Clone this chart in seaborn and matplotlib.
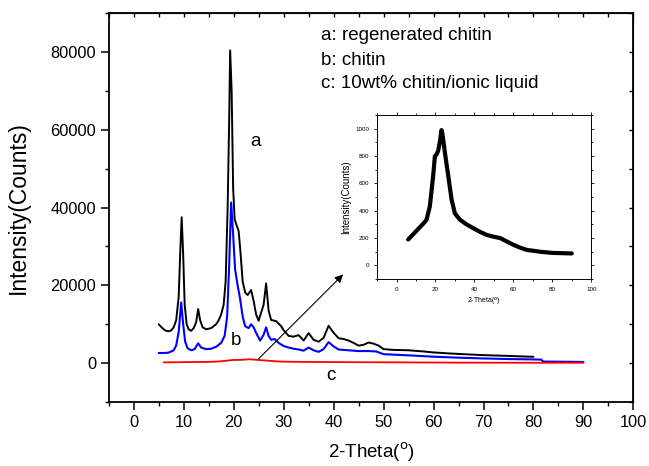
import numpy as np
import pandas as pd
import matplotlib
matplotlib.use("Agg")
import matplotlib.pyplot as plt
import seaborn as sns
from matplotlib.ticker import MultipleLocator

# ---- data ----
a_x = [5.0, 5.5, 6.0, 6.5, 7.0, 7.5, 8.0, 8.5, 9.0, 9.3, 9.6, 9.9, 10.2, 10.6, 11.0, 11.5, 12.0, 12.5,
       12.9, 13.3, 13.8, 14.5, 15.5, 16.5, 17.0, 17.5, 18.0, 18.4, 18.8, 19.1, 19.3, 19.6, 19.9, 20.2,
       20.6, 21.0, 21.4, 21.8, 22.3, 22.8, 23.5, 24.0, 24.5, 25.0, 25.5, 26.0, 26.5, 27.0, 27.5, 28.5,
       29.5, 30.0, 31.0, 32.0, 33.0, 34.0, 35.0, 36.0, 37.0, 38.0, 39.0, 40.0, 41.0, 42.0, 43.0, 44.0,
       45.0, 46.0, 47.0, 48.0, 49.0, 50.0, 52.0, 55.0, 58.0, 60.0, 63.0, 66.0, 70.0, 74.0, 77.0, 80.0]
a_y = [10000, 9300, 8700, 8300, 8200, 8400, 9200, 11000, 17000, 28000, 37500, 28000, 15000, 10000,
       8700, 8300, 9000, 10500, 13900, 11000, 9200, 8700, 9000, 10000, 11000, 12500, 15000, 21000,
       40000, 62000, 80400, 70000, 45000, 37000, 35400, 34000, 28000, 21000, 18200, 17500, 18800,
       16000, 12500, 10900, 13000, 15000, 20500, 13500, 11100, 10800, 9500, 8500, 7000, 6800, 7200,
       5800, 7700, 6000, 5500, 6500, 9600, 7800, 6400, 6200, 5800, 5200, 4500, 4700, 5300, 5000,
       4500, 3600, 3400, 3300, 3000, 2750, 2500, 2300, 2050, 1900, 1750, 1630]

b_x = [5.0, 6.0, 7.0, 8.0, 8.5, 9.0, 9.5, 9.9, 10.3, 10.8, 11.5, 12.2, 12.9, 13.5, 14.5, 15.5, 16.5,
       17.5, 18.2, 18.7, 19.1, 19.5, 19.9, 20.3, 20.8, 21.3, 21.8, 22.3, 23.0, 23.5, 24.0, 24.6, 25.3,
       26.0, 26.5, 27.0, 27.5, 28.2, 29.0, 30.0, 31.0, 32.0, 33.0, 34.0, 35.0, 36.0, 37.0, 38.0, 39.0,
       40.0, 41.0, 43.0, 45.0, 47.0, 48.5, 50.0, 55.0, 60.0, 65.0, 70.0, 75.0, 80.0, 81.5, 82.0, 86.0,
       90.0]
b_y = [2600, 2600, 2700, 3300, 4500, 8000, 15600, 10000, 5500, 3800, 3300, 3600, 5100, 4000, 3600,
       3700, 4200, 5200, 7000, 12000, 25000, 41300, 33000, 24000, 20000, 16500, 12000, 9500, 9000,
       10000, 9200, 7500, 5800, 7300, 9200, 7000, 6000, 6200, 5200, 4400, 4000, 3700, 3500, 3200,
       4000, 3300, 2900, 3600, 5400, 4300, 3500, 3300, 3100, 3100, 3000, 2300, 2000, 1650, 1400,
       1200, 1050, 950, 900, 400, 350, 300]

c_x = [6, 8, 10, 12, 14, 15.4, 17.1, 18.8, 19.7, 20.5, 21.4, 22.3, 23.1, 23.6, 24.8, 25.7, 26.6,
       27.5, 28.3, 30.0, 32.6, 36.0, 39.5, 43.0, 46.4, 50.0, 53.3, 56.0, 60.2, 63.5, 67.1, 70.0, 74.0,
       80.0, 85.0, 90.0]
c_y = [190, 220, 250, 280, 310, 334, 432, 653, 800, 810, 840, 910, 990, 960, 830, 740, 653, 560,
       480, 380, 334, 300, 272, 245, 223, 210, 200, 180, 150, 130, 113, 108, 100, 92, 90, 88]

labels = ["a: regenerated chitin", "b: chitin", "c: 10wt% chitin/ionic liquid"]

# ---- style ----
sns.set_style("ticks")
plt.rcParams['font.family'] = ['Liberation Sans', 'DejaVu Sans']
plt.rcParams['text.color'] = 'black'
plt.rcParams['axes.labelcolor'] = 'black'
plt.rcParams['xtick.color'] = 'black'
plt.rcParams['ytick.color'] = 'black'
plt.rcParams['axes.edgecolor'] = 'black'

fig = plt.figure(figsize=(6.49, 4.66), dpi=100)
ax = fig.add_axes([0.1675, 0.1373, 0.8085, 0.8347])

dfa = pd.DataFrame({"x": a_x, "y": a_y})
dfb = pd.DataFrame({"x": b_x, "y": b_y})
dfc = pd.DataFrame({"x": c_x, "y": c_y})

sns.lineplot(data=dfa, x="x", y="y", ax=ax, color="black", lw=1.4)
sns.lineplot(data=dfb, x="x", y="y", ax=ax, color="#0000ff", lw=1.5)
sns.lineplot(data=dfc, x="x", y="y", ax=ax, color="#ff0000", lw=1.3)

ax.set_xlim(-5, 100)
ax.set_ylim(-10000, 90000)
ax.xaxis.set_major_locator(MultipleLocator(10))
ax.xaxis.set_minor_locator(MultipleLocator(5))
ax.yaxis.set_minor_locator(MultipleLocator(10000))
ax.set_yticks([0, 20000, 40000, 60000, 80000])
ax.tick_params(axis='both', which='major', labelsize=11.8, length=5.5, width=1.1, direction='out')
ax.tick_params(axis='both', which='minor', length=3, width=1.0, direction='out')
ax.tick_params(top=False, right=False, which='both')
for sp in ax.spines.values():
    sp.set_linewidth(1.3)
ax.set_xlabel("2-Theta($^{\\rm o}$)", fontsize=13.5, labelpad=8)
ax.set_ylabel("Intensity(Counts)", fontsize=16.5, labelpad=15)

# top/right inward ticks without labels
sx = ax.secondary_xaxis('top')
sx.xaxis.set_major_locator(MultipleLocator(5))
sx.tick_params(direction='in', length=3, width=1.0, labeltop=False)
sy = ax.secondary_yaxis('right')
sy.yaxis.set_major_locator(MultipleLocator(10000))
sy.tick_params(direction='in', length=3, width=1.0, labelright=False)

# text annotations
ax.text(37.5, 84300, labels[0], fontsize=13.5, va='center', ha='left')
ax.text(37.5, 77800, labels[1], fontsize=13.5, va='center', ha='left')
ax.text(37.5, 71800, labels[2], fontsize=13.5, va='center', ha='left')
ax.text(24.3, 57000, "a", fontsize=13.5, ha='center', va='center')
ax.text(20.5, 5700, "b", fontsize=13.5, ha='center', va='center')
ax.text(39.4, -3200, "c", fontsize=13.5, ha='center', va='center')

ax.annotate("", xy=(42.3, 23300), xytext=(24.6, 600),
            arrowprops=dict(arrowstyle='-|>', color='black', lw=0.8, mutation_scale=12))

# inset
axi = fig.add_axes([0.581, 0.401, 0.330, 0.352])
sns.lineplot(data=dfc, x="x", y="y", ax=axi, color="black", lw=3.0)
axi.set_xlim(-10, 100)
axi.set_ylim(-100, 1100)
axi.xaxis.set_major_locator(MultipleLocator(20))
axi.xaxis.set_minor_locator(MultipleLocator(10))
axi.yaxis.set_minor_locator(MultipleLocator(100))
axi.set_yticks([0, 200, 400, 600, 800, 1000])
axi.tick_params(which='both', labelsize=4.5, length=2, width=0.6, top=True, right=True)
axi.tick_params(which='minor', length=1.2)
for sp in axi.spines.values():
    sp.set_linewidth(0.7)
axi.set_xlabel("2-Theta($^{\\rm o}$)", fontsize=5, labelpad=3)
axi.set_ylabel("Intensity(Counts)", fontsize=7, labelpad=3)

fig.savefig("out.png", dpi=100)
